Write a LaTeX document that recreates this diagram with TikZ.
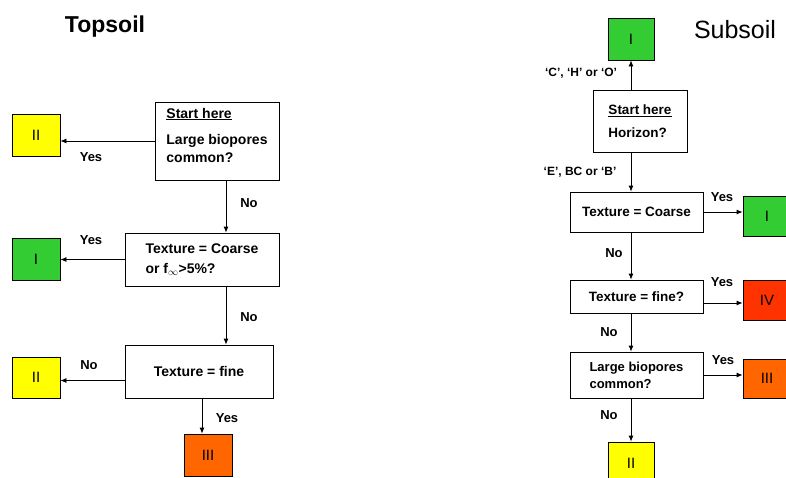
\documentclass[tikz,border=0pt]{standalone}
\usepackage{fontspec}
\setmainfont{Liberation Sans}
\usetikzlibrary{arrows.meta}
\definecolor{cyel}{HTML}{FFFF00}
\definecolor{cgrn}{HTML}{33CC33}
\definecolor{corg}{HTML}{FF6600}
\definecolor{cred}{HTML}{FF3300}
\begin{document}
\begin{tikzpicture}[x=1pt,y=-1pt,
  q/.style={draw, line width=0.8pt, fill=white, font=\bfseries\fontsize{14}{18}\selectfont, align=left, inner sep=0pt},
  qr/.style={q, font=\bfseries\fontsize{13.5}{18}\selectfont},
  res/.style={draw, line width=0.8pt, minimum width=48pt, minimum height=42pt, inner sep=0pt, font=\fontsize{15}{17}\selectfont},
  lab/.style={font=\bfseries\fontsize{13}{15}\selectfont, inner sep=0pt},
  slab/.style={font=\bfseries\fontsize{12}{14}\selectfont, inner sep=0pt},
  ttl/.style={font=\fontsize{25}{30}\selectfont, inner sep=0pt},
  arr/.style={-{Latex[length=6pt,width=5pt]}, line width=0.8pt}]
\useasboundingbox (0,0) rectangle (786,477);
\clip (0,0) rectangle (786,477);
\fill[white] (0,0) rectangle (786,477);

% Topsoil
\node[ttl, font=\bfseries\fontsize{23}{28}\selectfont] (tt) at (105,27) {Topsoil};
\node[res, fill=cyel] (y1) at (36,135) {II};
\node[q, minimum width=124pt, minimum height=78pt] (s1) at (217,141) {\underline{Start here}\\[8pt]Large biopores\\common?\\[-6pt]\mbox{}};
\node[q, minimum width=154pt, minimum height=53pt, font=\bfseries\fontsize{14}{20}\selectfont] (t1) at (202,259.5) {Texture = Coarse\\or f\textsubscript{$\infty$}>5\%?};
\node[res, fill=cgrn] (g1) at (36,259) {I};
\node[q, minimum width=148pt, minimum height=53pt] (t2) at (199,371.5) {Texture = fine};
\node[res, fill=cyel, minimum height=41pt] (y2) at (36,377.5) {II};
\node[res, fill=corg] (o1) at (208,455) {III};

\draw[arr] (s1.west) -- (s1.west -| y1.east);
\coordinate (a1) at ([xshift=9pt]s1.south);
\draw[arr] (a1) -- (a1 |- t1.north);
\draw[arr] (t1.west) -- (t1.west -| g1.east);
\coordinate (a2) at ([xshift=24pt]t1.south);
\draw[arr] (a2) -- (a2 |- t2.north);
\coordinate (a3) at ([yshift=-9pt]t2.west);
\draw[arr] (a3) -- (a3 -| y2.east);
\coordinate (a4) at ([xshift=3pt]t2.south);
\draw[arr] (a4) -- (a4 |- o1.north);

\node[lab] (l1) at (91,157) {Yes};
\node[lab] (l2) at (249,203) {No};
\node[lab] (l3) at (91,240) {Yes};
\node[lab] (l4) at (249,317) {No};
\node[lab] (l5) at (89,365) {No};
\node[lab] (l6) at (227,418) {Yes};

% Subsoil
\node[ttl] (st) at (735,30) {Subsoil};
\node[res, fill=cgrn, minimum width=46pt] (g2) at (631,39) {I};
\node[qr, minimum width=94pt, minimum height=62pt, font=\bfseries\fontsize{13.5}{17}\selectfont] (s2) at (640,121) {\underline{Start here}\\[6pt]Horizon?};
\node[qr, minimum width=133pt, minimum height=40pt] (t3) at (636.5,212) {Texture = Coarse};
\node[res, fill=cgrn, minimum height=40pt] (g3) at (767,216) {I};
\node[qr, minimum width=133pt, minimum height=33pt] (t4) at (636.5,296.5) {Texture = fine?};
\node[res, fill=cred, minimum height=40pt] (r1) at (767,300) {IV};
\node[qr, minimum width=133pt, minimum height=46pt, font=\bfseries\fontsize{13}{17}\selectfont] (t5) at (636.5,375) {Large biopores\\common?};
\node[res, fill=corg, minimum height=39pt] (o2) at (767,378.5) {III};
\node[res, fill=cyel, minimum width=46pt] (y3) at (631,463) {II};

\coordinate (b1) at ([xshift=-9pt]s2.north);
\draw[arr] (b1) -- (b1 |- g2.south);
\coordinate (b2) at ([xshift=-9pt]s2.south);
\draw[arr] (b2) -- (b2 |- t3.north);
\draw[arr] (t3.east) -- (t3.east -| g3.west);
\coordinate (b3) at ([xshift=-5.5pt]t3.south);
\draw[arr] (b3) -- (b3 |- t4.north);
\coordinate (b4) at ([yshift=-6.5pt]t4.east);
\draw[arr] (b4) -- (b4 -| r1.west);
\coordinate (b5) at ([xshift=-5.5pt]t4.south);
\draw[arr] (b5) -- (b5 |- t5.north);
\draw[arr] (t5.east) -- (t5.east -| o2.west);
\coordinate (b6) at ([xshift=-5.5pt]t5.south);
\draw[arr] (b6) -- (b6 |- y3.north);

\node[slab] (m1) at (581,73) {`C', `H' or `O'};
\node[slab] (m2) at (580,172) {`E', BC or `B'};
\node[lab] (m3) at (722,197) {Yes};
\node[lab] (m4) at (614,253) {No};
\node[lab] (m5) at (722,282) {Yes};
\node[lab] (m6) at (609,332) {No};
\node[lab] (m7) at (723,360) {Yes};
\node[lab] (m8) at (609,415) {No};
\end{tikzpicture}
\end{document}
